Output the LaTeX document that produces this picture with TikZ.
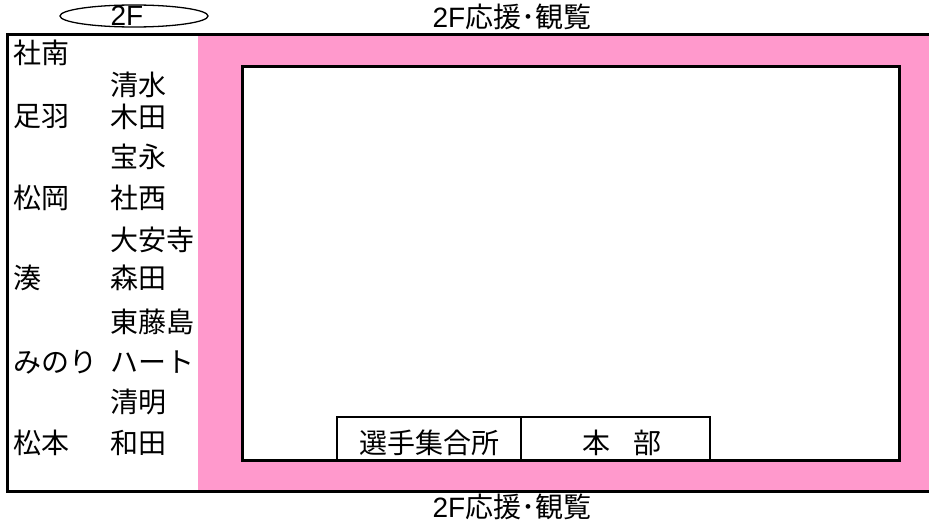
\documentclass[tikz,border=0pt]{standalone}
\usepackage{fontspec}
\setmainfont{Noto Sans CJK JP}
\newfontfamily\latinfont{Liberation Sans}
\begin{document}
\begin{tikzpicture}[x=1pt,y=1pt,yscale=-1]
\useasboundingbox (0,0) rectangle (929,524);
\tikzset{jptext/.style={inner sep=0pt,font=\fontsize{28}{32}\selectfont}}

%Shape: Rectangle (pink area)
\fill [color={rgb, 255:red, 255; green, 153; blue, 204 }] (198,35) rectangle (929,491) ;
%Shape: Rectangle (inner white area)
\draw [line width=3, fill=white] (242,67) rectangle (899,460) ;
%Straight Lines (outer frame)
\draw [line width=3] (929,35) -- (7,35) -- (7,491) -- (929,491) ;
%Shape: Rectangle
\draw [line width=2.2] (337,460) -- (337,417) -- (710,417) -- (710,460) ;
%Straight Lines
\draw [line width=2.2] (521,417) -- (521,460) ;
%Shape: Ellipse
\draw [line width=1.3] (134,16) ellipse [x radius=74, y radius=11] ;

% Text Node
\draw (127,16) node [jptext] (floor) {\latinfont 2F};
% Text Node
\draw (512,17) node [jptext] (standtop) {{\latinfont 2F}応援･観覧};
% Text Node
\draw (512,507) node [jptext] (standbottom) {{\latinfont 2F}応援･観覧};
% Text Node
\draw (429,443) node [jptext] (gather) {選手集合所};
% Text Node
\draw (622,443) node [jptext] (hq) {本\hspace{0.8em}部};

% Text Node
\draw (13,53) node [anchor=west][jptext] (shanan) {社南};
% Text Node
\draw (110,85) node [anchor=west][jptext] (shimizu) {清水};
% Text Node
\draw (13,117) node [anchor=west][jptext] (asuwa) {足羽};
% Text Node
\draw (110,117) node [anchor=west][jptext] (kida) {木田};
% Text Node
\draw (110,157) node [anchor=west][jptext] (houei) {宝永};
% Text Node
\draw (13,198) node [anchor=west][jptext] (matsuoka) {松岡};
% Text Node
\draw (110,198) node [anchor=west][jptext] (shasei) {社西};
% Text Node
\draw (110,240) node [anchor=west][jptext] (daianji) {大安寺};
% Text Node
\draw (13,278) node [anchor=west][jptext] (minato) {湊};
% Text Node
\draw (110,278) node [anchor=west][jptext] (morita) {森田};
% Text Node
\draw (110,322) node [anchor=west][jptext] (higashifujishima) {東藤島};
% Text Node
\draw (13,362) node [anchor=west][jptext] (minori) {みのり};
% Text Node
\draw (110,362) node [anchor=west][jptext] (heart) {ハート};
% Text Node
\draw (110,402) node [anchor=west][jptext] (seimei) {清明};
% Text Node
\draw (13,443) node [anchor=west][jptext] (matsumoto) {松本};
% Text Node
\draw (110,443) node [anchor=west][jptext] (wada) {和田};

\end{tikzpicture}
\end{document}
